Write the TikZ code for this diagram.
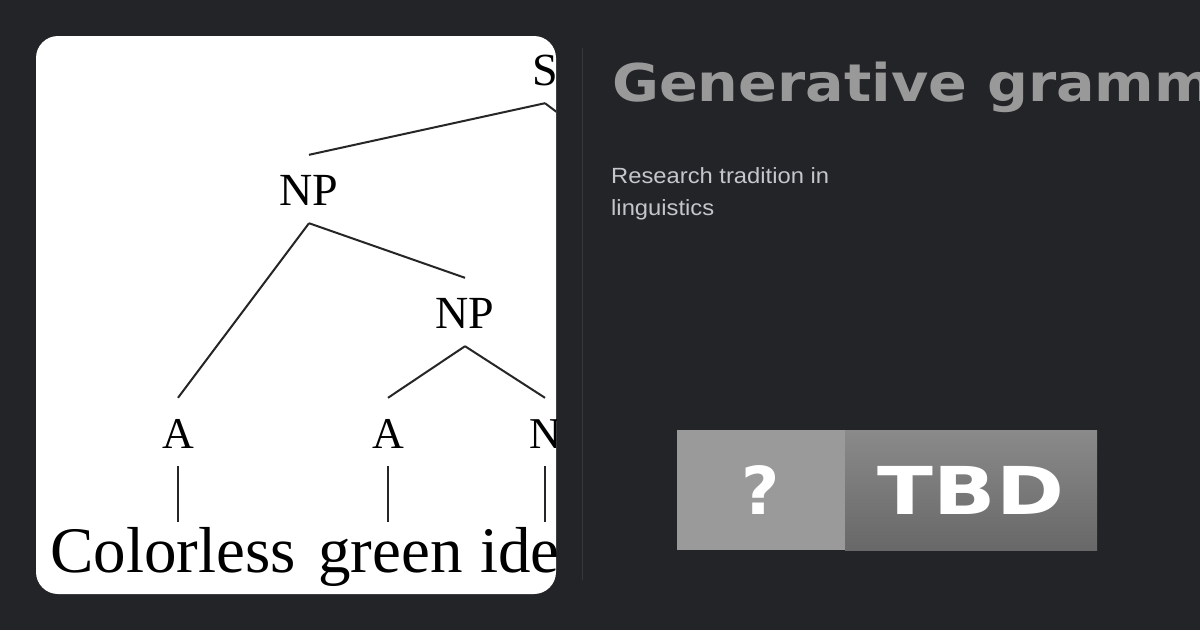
\documentclass[tikz,border=0pt]{standalone}
\usepackage{fontspec}
\setmainfont{Liberation Serif}
\newfontfamily\titlefont{DejaVu Sans}
\newfontfamily\subfont{Liberation Sans}
\usetikzlibrary{calc}
\definecolor{pagebg}{HTML}{222428}
\definecolor{rulegrey}{HTML}{34373C}
\definecolor{titlegrey}{HTML}{999999}
\definecolor{subgrey}{HTML}{C3C6CA}
\definecolor{badgeleft}{HTML}{9A9A9A}
\definecolor{badgetop}{HTML}{8A8A8A}
\definecolor{badgebot}{HTML}{686868}
\definecolor{inkgrey}{HTML}{262626}
\tikzset{
  cat/.style={inner sep=0pt, anchor=base, text height=50pt, text depth=18pt,
    font=\fontsize{46}{46}\selectfont},
  leaf/.style={cat, font=\fontsize{44}{44}\selectfont},
  word/.style={cat, anchor=base west, font=\fontsize{65}{65}\selectfont},
  branch/.style={line width=2pt, inkgrey},
  subline/.style={anchor=base west, inner sep=0pt, text=subgrey, xscale=1.08,
    font=\subfont\fontsize{22}{22}\selectfont},
  badgetext/.style={inner sep=0pt, text=white,
    font=\titlefont\bfseries\fontsize{66}{66}\selectfont},
}

\begin{document}
\begin{tikzpicture}[x=1pt,y=-1pt]
	\fill [pagebg] (0,0) rectangle (1200,630);
	\useasboundingbox (0,0) rectangle (1200,630);
	\fill [white, rounded corners=22pt] (36,36) rectangle (556,594);
	\begin{scope}
	\clip [rounded corners=22pt] (36,36) rectangle (556,594);
	\node [cat] (S) at (545,85) {S};
	\node [cat] (NP1) at (309,205) {NP};
	\node [cat] (NP2) at (465,328) {NP};
	\node [leaf] (A1) at (178,448) {A};
	\node [leaf] (A2) at (388,448) {A};
	\node [leaf] (N) at (545,448) {N};
	\node [word] (W1) at (50,572) {Colorless};
	\node [word] (W2) at (318,572) {green};
	\node [word] (W3) at (480,572) {ideas};
	\coordinate (VP) at (614,155);
	\draw [branch] (S.south) -- (NP1.north);
	\draw [branch] (S.south) -- (VP);
	\draw [branch] (NP1.south) -- (A1.north);
	\draw [branch] (NP1.south) -- (NP2.north);
	\draw [branch] (NP2.south) -- (A2.north);
	\draw [branch] (NP2.south) -- (N.north);
	\draw [branch] (A1.south) -- (A1.south |- W1.north);
	\draw [branch] (A2.south) -- (A2.south |- W2.north);
	\draw [branch] (N.south) -- (N.south |- W3.north);
	\end{scope}
	\draw [rulegrey, line width=1pt] (582,48) -- (582,580);
	\node [anchor=base west, inner sep=0pt, text=titlegrey, xscale=1.1,
	  font=\titlefont\bfseries\fontsize{52}{52}\selectfont] (title) at (612,101) {Generative grammar};
	\node [subline] (sub1) at (611,183) {Research tradition in};
	\node [subline] (sub2) at (611,215) {linguistics};
	\fill [badgeleft] (677,430) rectangle (845,550);
	\shade [top color=badgetop, bottom color=badgebot] (845,430) rectangle (1097,550);
	\node [badgetext] (mark) at (761,490) {?};
	\node [badgetext, xscale=1.24] (tbd) at (971,490) {TBD};
	\end{tikzpicture}
\end{document}
